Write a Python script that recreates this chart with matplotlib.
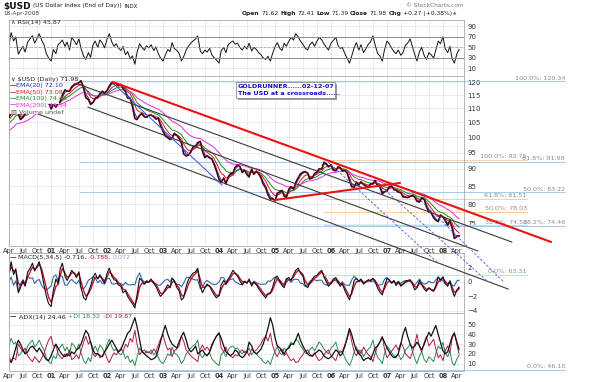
import numpy as np
import pandas as pd
import matplotlib
matplotlib.use('Agg')
import matplotlib.pyplot as plt
from matplotlib.patches import Rectangle
from matplotlib.ticker import FixedLocator, FixedFormatter, NullLocator

# ---- data: semi-monthly samples (1st and 15th), Apr 2000 .. Apr 2008 ----
dates = pd.date_range('2000-04-01', '2008-04-15', freq='SMS')

price = [
    106.8, 108.5, 109.8, 112.0, 108.0, 106.0, 106.8, 108.2, 109.4, 111.0, 112.2, 114.5, 115.5, 117.8, 118.0, 117.0, 115.5, 112.5,
    109.8, 111.5, 110.5, 112.0, 112.5, 115.0, 117.0, 116.5, 116.6, 118.2, 119.2, 119.4, 119.9, 120.6, 117.5, 114.0, 113.3, 111.5, 112.2, 113.8, 114.2, 115.6, 116.5, 115.8,
    116.8, 118.5, 120.0, 119.4, 119.6, 118.6, 119.2, 117.5, 116.3, 113.8, 113.7, 110.8, 106.4, 106.0, 107.5, 108.2, 107.0, 106.8, 107.5, 107.6, 107.0, 106.2, 106.5, 104.0,
    101.9, 100.4, 99.8, 99.2, 99.6, 101.3, 100.6, 99.6, 98.0, 94.6, 93.9, 94.2, 95.3, 96.8, 97.1, 98.2, 98.6, 95.4, 93.4, 94.0, 93.3, 93.0, 91.2, 89.4,
    86.9, 86.0, 87.3, 85.6, 87.6, 88.5, 88.7, 90.5, 91.1, 90.8, 88.9, 89.6, 88.3, 87.6, 89.9, 88.4, 89.3, 88.6, 87.3, 85.6, 84.4, 82.6, 81.4, 81.5,
    80.9, 83.0, 83.4, 83.8, 82.2, 81.8, 84.2, 84.8, 84.1, 86.0, 87.4, 88.5, 89.0, 89.2, 88.7, 87.0, 87.4, 88.6, 89.1, 90.0, 89.9, 92.0, 91.5, 90.6,
    91.2, 89.6, 89.4, 90.6, 90.4, 89.4, 89.5, 88.8, 86.6, 84.8, 84.7, 86.0, 85.3, 86.2, 85.4, 85.0, 84.7, 85.6, 85.7, 86.6, 85.0, 84.9, 82.8, 83.4,
    83.6, 84.8, 85.0, 84.0, 83.8, 83.3, 83.1, 82.0, 81.9, 81.8, 82.1, 82.4, 81.9, 80.8, 80.6, 81.8, 81.3, 79.3, 78.0, 77.8, 76.5, 75.9, 75.5, 77.2,
    76.7, 75.8, 74.6, 75.8, 73.9, 71.4, 71.9, 71.98,
]

rsi = [
    55, 78, 62, 70, 37, 45, 52, 41, 60, 66, 72, 58, 67, 76, 63, 55, 38, 30,
    24, 46, 38, 55, 59, 64, 52, 60, 45, 69, 62, 55, 66, 48, 33, 27, 40, 31, 55, 62, 50, 64, 58, 49,
    66, 76, 60, 52, 57, 49, 44, 52, 36, 42, 28, 34, 18, 40, 57, 50, 45, 53, 49, 55, 44, 51, 38, 30,
    24, 35, 46, 42, 59, 48, 44, 39, 24, 32, 45, 52, 58, 62, 66, 72, 43, 38, 45, 41, 48, 36, 30, 26,
    20, 44, 50, 40, 55, 59, 62, 56, 58, 50, 45, 52, 47, 58, 43, 50, 46, 40, 36, 30, 27, 33, 24, 38,
    52, 59, 48, 44, 58, 52, 62, 69, 64, 76, 70, 62, 56, 49, 45, 55, 60, 52, 62, 69, 64, 57, 50, 45,
    58, 63, 69, 54, 48, 50, 38, 30, 20, 33, 50, 59, 45, 55, 40, 47, 56, 60, 72, 55, 38, 34, 24, 45,
    62, 57, 48, 42, 38, 45, 35, 40, 54, 58, 66, 52, 36, 24, 42, 50, 34, 27, 40, 36, 30, 45, 62, 57,
    70, 48, 40, 52, 28, 20, 38, 45.87,
]

macd = [
    1.2, 2.8, 1.0, 1.8, -1.5, -0.8, 0.2, -0.6, 1.4, 1.8, 2.6, 1.5, 2.2, 2.8, 1.2, -0.4, -2.0, -3.0,
    -3.4, -1.2, 0.4, -0.2, 1.8, 2.6, 0.8, 0.2, 0.9, 1.6, 1.2, 0.6, 1.4, -0.8, -2.2, -2.5, -1.4, -0.6, 0.6, 1.2, 0.4, 1.0, 0.3, -0.2,
    1.2, 1.9, 0.8, 0.3, 0.2, -0.4, -0.6, -1.5, -1.2, -2.0, -2.6, -3.0, -3.6, -1.8, 0.5, 0.2, -0.3, 0.1, 0.0, 0.4, -0.2, -0.6, -1.4, -2.0,
    -1.6, -1.0, -0.4, -0.8, 0.5, 0.2, -0.8, -1.2, -2.5, -2.2, -0.6, 0.3, 0.8, 1.2, 1.4, 1.9, -0.6, -1.5, -0.8, -0.3, -0.6, -1.2, -1.8, -2.2,
    -1.9, -0.4, 0.2, -0.3, 0.4, 0.9, 1.6, 1.2, 0.8, 0.2, -0.4, 0.1, -0.2, 0.4, -0.6, 0.0, -0.4, -0.9, -1.4, -1.8, -2.2, -1.6, -1.5, -0.8,
    0.5, 0.8, 0.1, -0.5, -0.8, 0.4, 0.6, 0.2, 1.0, 1.6, 1.9, 1.2, 0.8, -0.4, -0.8, -0.2, 0.4, 0.8, 0.9, 1.3, 1.6, 0.7, 0.0, -0.6,
    -0.2, 0.4, 0.6, 0.0, -0.6, -0.2, -1.2, -1.8, -2.5, -1.4, 0.2, 0.5, 0.1, 0.4, -0.3, 0.0, 0.3, 0.2, 0.5, 0.1, -0.9, -1.4, -1.8, -0.6,
    0.5, 0.3, -0.2, 0.2, -0.5, 0.0, -0.6, -0.3, 0.1, 0.2, 0.3, -0.3, -1.1, -0.8, 0.2, -0.4, -1.0, -1.3, -0.8, -1.1, -1.3, -0.5, 0.7, 0.3,
    0.7, -0.2, -0.6, 0.1, -1.2, -2.0, -1.1, -0.716,
]

adx = [
    14, 11, 18, 26, 34, 30, 24, 20, 22, 26, 28, 25, 22, 26, 22, 18, 14, 13,
    18, 24, 30, 26, 22, 19, 17, 20, 18, 22, 20, 24, 26, 30, 38, 44, 40, 32, 24, 20, 20, 18, 17, 22,
    26, 30, 34, 30, 26, 22, 24, 30, 36, 41, 44, 50, 57, 48, 34, 23, 20, 18, 16, 14, 15, 17, 24, 32,
    42, 49, 40, 34, 30, 28, 26, 32, 38, 42, 34, 26, 22, 24, 28, 20, 22, 24, 20, 18, 22, 28, 34, 38,
    41, 36, 28, 22, 20, 18, 20, 24, 22, 18, 16, 18, 22, 32, 28, 22, 20, 22, 25, 30, 38, 46, 57, 50,
    36, 28, 26, 22, 20, 24, 26, 30, 30, 34, 41, 34, 28, 24, 20, 18, 18, 20, 22, 24, 22, 18, 16, 15,
    17, 20, 24, 22, 18, 20, 28, 36, 46, 40, 30, 24, 20, 18, 13, 15, 16, 14, 20, 26, 28, 32, 37, 32,
    26, 22, 18, 16, 17, 20, 30, 40, 47, 38, 30, 26, 28, 32, 28, 24, 30, 36, 42, 38, 44, 49, 40, 32,
    23, 20, 22, 30, 38, 41, 32, 24.46,
]

plus_di = [
    28, 36, 30, 32, 18, 20, 24, 20, 28, 31, 34, 27, 30, 34, 28, 24, 16, 12,
    10, 18, 15, 24, 27, 30, 23, 27, 20, 31, 28, 24, 30, 21, 13, 10, 16, 12, 24, 28, 22, 29, 26, 21,
    30, 35, 27, 23, 25, 21, 19, 22, 15, 18, 11, 14, 8, 16, 26, 22, 20, 23, 21, 24, 19, 22, 16, 12,
    10, 14, 20, 18, 27, 21, 19, 16, 10, 13, 20, 23, 26, 28, 30, 34, 19, 16, 20, 18, 21, 15, 12, 10,
    8, 19, 22, 17, 24, 27, 28, 25, 26, 22, 20, 23, 21, 26, 19, 22, 20, 17, 15, 12, 10, 13, 9, 16,
    23, 27, 21, 19, 26, 23, 28, 32, 29, 35, 33, 28, 25, 21, 20, 24, 27, 23, 28, 32, 29, 25, 22, 20,
    26, 28, 32, 24, 21, 22, 16, 12, 8, 13, 22, 27, 20, 24, 17, 21, 25, 27, 34, 24, 16, 14, 10, 20,
    28, 25, 21, 18, 16, 20, 14, 17, 24, 26, 30, 23, 15, 10, 18, 22, 14, 11, 17, 15, 12, 20, 28, 25,
    32, 21, 17, 23, 11, 8, 15, 18.32,
]

minus_di = [
    18, 12, 16, 14, 30, 26, 22, 26, 18, 15, 12, 17, 14, 11, 16, 20, 28, 34,
    38, 28, 29, 20, 17, 15, 20, 17, 24, 14, 16, 19, 15, 23, 32, 38, 30, 33, 20, 17, 21, 16, 18, 22,
    15, 11, 17, 21, 19, 22, 26, 22, 30, 27, 36, 32, 44, 30, 19, 22, 24, 21, 22, 20, 25, 22, 29, 35,
    40, 31, 24, 26, 17, 23, 25, 28, 38, 33, 24, 21, 18, 16, 14, 12, 25, 29, 24, 27, 23, 30, 34, 38,
    42, 26, 22, 27, 20, 18, 16, 19, 18, 22, 24, 21, 23, 18, 25, 22, 24, 27, 30, 35, 38, 33, 41, 29,
    21, 17, 23, 25, 18, 21, 16, 13, 15, 11, 12, 16, 19, 23, 24, 20, 17, 21, 16, 13, 15, 19, 22, 24,
    18, 16, 13, 20, 23, 22, 29, 35, 44, 33, 22, 18, 24, 20, 27, 23, 19, 17, 12, 20, 29, 32, 38, 25,
    16, 19, 23, 26, 29, 24, 31, 28, 20, 18, 15, 21, 30, 40, 27, 22, 32, 38, 28, 31, 35, 25, 16, 19,
    13, 23, 28, 21, 36, 42, 29, 19.87,
]

for name, s in [('price', price), ('rsi', rsi), ('macd', macd), ('adx', adx),
                ('plus_di', plus_di), ('minus_di', minus_di)]:
    assert len(s) == len(dates), (name, len(s), len(dates))

# EMA starting levels (from the chart's left edge)
ema_spans = [20, 50, 100, 200]
ema_seeds = [106.5, 105.6, 104.3, 101.6]
ema_colors = ['#1a2fa8', '#e01818', '#1f8a2a', '#e030e0']
ema_labels = ['EMA(20) 72.10', 'EMA(50) 73.08', 'EMA(100) 74.46', 'EMA(200) 76.54']
DAYS_PER_STEP = 10.5

# drawn trend lines: (dates, prices)
red_lines = [
    (['2002-02-08', '2009-12-05'], [120.1, 70.6]),
    (['2005-01-01', '2007-03-25'], [81.15, 85.86]),
]
channel_lines = [
    (['2001-06-25', '2009-03-25'], [119.3, 70.57]),
    (['2001-08-29', '2008-08-15'], [110.5, 68.5]),
    (['2000-08-15', '2009-03-01'], [109.1, 60.36]),
]
blue_line = (['2002-02-08', '2004-01-20'], [119.7, 85.3])
dashed_lines = [
    (['2005-12-12', '2007-11-22'], [92.07, 66.03]),
    (['2006-10-20', '2008-10-15'], [86.15, 61.99]),
    (['2007-06-12', '2009-02-01'], [83.33, 61.79]),
]

# Fibonacci levels
blue_fib_levels = [120.34, 91.98, 83.22, 74.46, 46.10]
blue_fib_pcts = ['100.0%', '61.8%', '50.0%', '38.2%', '0.0%']
orange_fib_levels = [92.75, 81.51, 78.03, 74.56, 63.31]
orange_fib_pcts = ['100.0%', '61.8%', '50.0%', '38.2%', '0.0%']
blue_fib_span = ['2001-07-06', '2010-03-07']
orange_fib_span = ['2005-11-15', '2009-07-01']

price_ticks = [75, 80, 85, 90, 95, 100, 105, 110, 115, 120]
rsi_ticks = [10, 30, 50, 70, 90]
macd_ticks = [-4, -2, 0, 2]
adx_ticks = [10, 20, 30, 40, 50]


def ema(values, span, seed):
    alpha = min(2.0 / (span + 1.0), 1.0)
    out, prev = [], seed
    for v in values:
        prev = prev + alpha * (v - prev)
        out.append(prev)
    return np.array(out)


# ---- figure ----
W, H = 600, 382
L, R = 9, 464
fig = plt.figure(figsize=(6, 3.82), dpi=100)
fig.patch.set_facecolor('white')
renderer = fig.canvas.get_renderer()

x_start = pd.Timestamp('2000-04-01')
x_end = pd.Timestamp('2008-05-17')
quarters = pd.date_range('2000-04-01', '2008-04-01', freq='QS')
q_labels = [d.strftime('%y') if d.month == 1 else d.strftime('%b') for d in quarters]


def panel(top, bottom):
    ax = fig.add_axes([L / W, 1 - bottom / H, (R - L) / W, (bottom - top) / H])
    for s in ax.spines.values():
        s.set_color('#a8a8a8')
        s.set_linewidth(0.6)
    ax.set_xlim(x_start, x_end)
    ax.set_xticks(quarters)
    ax.grid(True, color='#e4e4e4', lw=0.5)
    ax.set_axisbelow(True)
    ax.yaxis.tick_right()
    ax.tick_params(length=0, labelsize=5, colors='#333333', pad=2.5)
    ax.tick_params(axis='x', labelbottom=False)
    return ax


def date_labels(ax):
    ax.tick_params(axis='x', labelbottom=True, labelsize=4.8, pad=1.2)
    labels = ax.set_xticklabels(q_labels)
    for lbl in labels:
        if lbl.get_text().isdigit():
            lbl.set_fontweight('bold')


def ftext(x, y, s, **kw):
    kw.setdefault('va', 'center')
    kw.setdefault('fontsize', 4.6)
    kw.setdefault('color', '#222222')
    return fig.text(x / W, 1 - y / H, s, **kw)


def text_run(x, y, parts, gap=2.0, align='left'):
    # lay out (text, style) pieces one after another on a single row
    seq = parts if align == 'left' else parts[::-1]
    for s, kw in seq:
        t = ftext(x, y, s, ha=align, **kw)
        w = t.get_window_extent(renderer).width
        x = x + w + gap if align == 'left' else x - w - gap


# RSI panel
ax_rsi = panel(19.5, 75.5)
ax_rsi.plot(dates, rsi, color='#111111', lw=0.7)
ax_rsi.axhline(70, color='#8a8a8a', lw=0.7)
ax_rsi.axhline(30, color='#8a8a8a', lw=0.7)
ax_rsi.axhline(50, color='#9a9a9a', lw=0.5, ls=(0, (4, 2)))
ax_rsi.set_ylim(-3.5, 103)
ax_rsi.set_yticks(rsi_ticks)

# MACD panel
ax_macd = panel(253, 313)
macd_signal = ema(macd, 2.5, macd[0])
macd_hist = np.array(macd) - macd_signal
ax_macd.plot(dates, macd_hist, color='#3566a8', lw=0.8)
ax_macd.plot(dates, macd_signal, color='#c8102e', lw=1.0)
ax_macd.plot(dates, macd, color='#111111', lw=0.8)
ax_macd.set_ylim(-4.3, 4.0)
ax_macd.set_yticks(macd_ticks)

# ADX panel
ax_adx = panel(313, 371)
ax_adx.plot(dates, plus_di, color='#2a8a50', lw=0.7)
ax_adx.plot(dates, minus_di, color='#b01850', lw=0.7)
ax_adx.plot(dates, adx, color='#111111', lw=0.9)
ax_adx.set_ylim(2.4, 61.8)
ax_adx.set_yticks(adx_ticks)
date_labels(ax_adx)

# price panel (added last so its drawings sit on top of lower panels)
ax_px = panel(75.5, 246)
ax_px.set_yscale('log')
ax_px.set_ylim(69.64, 122.74)
ax_px.yaxis.set_major_locator(FixedLocator(price_ticks))
ax_px.yaxis.set_major_formatter(FixedFormatter([str(t) for t in price_ticks]))
ax_px.yaxis.set_minor_locator(NullLocator())
date_labels(ax_px)

for span, seed, col in zip(ema_spans, ema_seeds, ema_colors):
    ax_px.plot(dates, ema(price, span / DAYS_PER_STEP, seed), color=col, lw=0.7, zorder=2.5)
ax_px.plot(dates, price, color='#e01818', lw=1.2, zorder=3)
ax_px.plot(dates, price, color='#10102a', lw=0.8, zorder=3.1)

for d, p in channel_lines:
    ax_px.plot(pd.to_datetime(d), p, color='#3a3a3a', lw=0.8, clip_on=False, zorder=4)
ax_px.plot(pd.to_datetime(blue_line[0]), blue_line[1], color='#3050e0', lw=0.7, clip_on=False, zorder=4)
for d, p in dashed_lines:
    ax_px.plot(pd.to_datetime(d), p, color='#4a5ad8', lw=0.6, ls=(0, (3, 2)), clip_on=False, zorder=4)
for d, p in red_lines:
    ax_px.plot(pd.to_datetime(d), p, color='#ee1111', lw=1.5, clip_on=False, zorder=4.5)

bx = pd.to_datetime(blue_fib_span)
for lev, pct in zip(blue_fib_levels, blue_fib_pcts):
    ax_px.plot(bx, [lev, lev], color='#a9c9ea', lw=0.7, clip_on=False, zorder=1.5)
    ax_px.annotate(f'{pct}: {lev:.2f}', (bx[1], lev), xytext=(0, 0.6), textcoords='offset points',
                   ha='right', va='bottom', fontsize=4.6, color='#8a8a8a', annotation_clip=False)
ox = pd.to_datetime(orange_fib_span)
for lev, pct in zip(orange_fib_levels, orange_fib_pcts):
    ax_px.plot(ox, [lev, lev], color='#f6cf9e', lw=0.7, clip_on=False, zorder=1.5)
    ax_px.annotate(f'{pct}: {lev:.2f}', (ox[1], lev), xytext=(0, 0.6), textcoords='offset points',
                   ha='right', va='bottom', fontsize=4.6, color='#8a8a8a', annotation_clip=False)

# ---- header ----
B = {'fontweight': 'bold', 'fontsize': 4.3}
N = {'fontsize': 4.3}
text_run(3, 6, [('$USD', {'fontsize': 6.5, 'fontweight': 'bold', 'color': '#111111'}),
                ('(US Dollar Index (End of Day))', {'fontsize': 4.2}),
                ('INDX', {'fontsize': 3.9})], gap=2.5)
ftext(3, 13.5, '18-Apr-2008', fontsize=4.2, color='#444444')
ftext(464, 5.5, '\u00a9 StockCharts.com', fontsize=4.2, color='#777777', ha='right')
text_run(452, 13.5, [('Open', B), ('71.62', N), ('High', B), ('72.41', N), ('Low', B), ('71.39', N),
                     ('Close', B), ('71.98', N), ('Chg', B), ('+0.27 (+0.38%)', N)],
         gap=1.6, align='right')
ftext(453, 13.5, '\u25b2', fontsize=3.2, color='#2a8a2a')

# panel legends
ftext(11, 22.5, '\u2227 RSI(14) 45.87')

fig.add_artist(Rectangle((9.6 / W, 1 - 104 / H), 49 / W, 28 / H, transform=fig.transFigure,
                         facecolor='white', edgecolor='none', zorder=2.5))
fig.add_artist(Rectangle((9.6 / W, 1 - 114 / H), 38 / W, 10 / H, transform=fig.transFigure,
                         facecolor='white', edgecolor='none', zorder=2.5))
ftext(11, 79.5, '\u2228 $USD (Daily) 71.98')
for i, (lab, col) in enumerate(zip(ema_labels, ema_colors)):
    y = 85.8 + 6.4 * i
    ftext(10, y, '\u2014', color=col, fontweight='bold')
    ftext(16, y, lab, color=col)
ftext(11, 111.3, '\u25a5 Volume undef', color='#555555')

text_run(10, 257.5, [('\u2014', {'fontweight': 'bold'}), ('MACD(5,34,5) -0.716,', {}),
                     ('-0.788,', {'color': '#c8102e'}), ('0.072', {'color': '#8aa6cc'})], gap=2.0)
text_run(10, 317, [('\u2014', {'fontweight': 'bold'}), ('ADX(14) 24.46', {}),
                   ('+DI 18.32', {'color': '#2a8a50'}), ('-DI 19.87', {'color': '#b01850'})], gap=2.5)

# annotation box
fig.add_artist(Rectangle((238 / W, 1 - 100 / H), 99 / W, 16 / H, transform=fig.transFigure,
                         facecolor='#9a9a9a', edgecolor='none', zorder=4))
fig.add_artist(Rectangle((236 / W, 1 - 98 / H), 99 / W, 16 / H, transform=fig.transFigure,
                         facecolor='white', edgecolor='#8a8a8a', lw=0.6, zorder=4.2))
ftext(238, 86.2, 'GOLDRUNNER......02-12-07', color='#1010c8', fontweight='bold', zorder=5)
ftext(238, 93.6, 'The USD at a crossroads......', color='#1010c8', fontweight='bold', zorder=5)

fig.savefig('out.png', dpi=100)
